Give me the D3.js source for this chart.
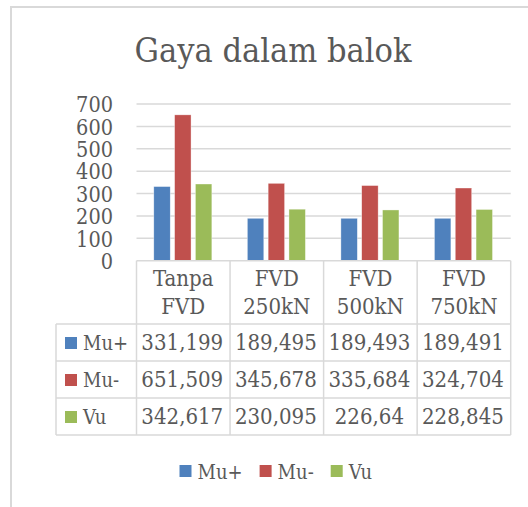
<!DOCTYPE html>
<html><head><meta charset="utf-8">
<script src="https://cdn.jsdelivr.net/npm/d3@7"></script>
<style>
html,body{margin:0;padding:0;background:#fff;}
svg text{font-family:"DejaVu Serif Condensed","DejaVu Serif",serif;font-stretch:condensed;fill:#595959;}
</style></head>
<body><svg id="c" width="528" height="507"></svg>
<script>
const title = "Gaya dalam balok";
const categories = ["Tanpa FVD", "FVD 250kN", "FVD 500kN", "FVD 750kN"];
const seriesNames = ["Mu+", "Mu-", "Vu"];
const seriesColors = ["#4F81BD", "#C0504D", "#9BBB59"];
const muPlus = [331.199, 189.495, 189.493, 189.491];
const muMinus = [651.509, 345.678, 335.684, 324.704];
const vu = [342.617, 230.095, 226.64, 228.845];
const yTicks = [0, 100, 200, 300, 400, 500, 600, 700];

const seriesValues = [muPlus, muMinus, vu];
const svg = d3.select("#c");
const grid = "#d9d9d9";

// outer chart frame
svg.append("rect").attr("x", 11).attr("y", 7).attr("width", 530).attr("height", 520)
  .attr("fill", "#fff").attr("stroke", grid).attr("stroke-width", 2);

// title
svg.append("text").attr("x", 273).attr("y", 62).attr("text-anchor", "middle")
  .style("font-size", "34px").text(title);

const plotL = 136.5, plotR = 510.7, plotT = 104, plotB = 260.7;
const y = d3.scaleLinear().domain([0, 700]).range([plotB, plotT]);
const x = d3.scaleBand().domain(categories).range([plotL, plotR]);
const xi = d3.scaleBand().domain(seriesNames).range([17.3, x.bandwidth() - 18.2]).paddingInner(0.21);

// gridlines
svg.append("g").selectAll("line").data(yTicks.filter(d => d > 0)).join("line")
  .attr("x1", plotL).attr("x2", plotR).attr("y1", d => y(d)).attr("y2", d => y(d))
  .attr("stroke", grid).attr("stroke-width", 1.5);

// y axis labels
const ya = svg.append("g").attr("transform", `translate(${plotL - 23.5},0)`)
  .call(d3.axisLeft(y).tickValues(yTicks).tickSize(0).tickPadding(0).tickFormat(d3.format("d")));
ya.select(".domain").remove();
ya.selectAll("text").style("font-size", "21.5px").style("font-family", null).attr("fill", null).attr("dy", "0.36em");

// bars
const groups = svg.append("g").selectAll("g").data(categories).join("g")
  .attr("transform", d => `translate(${x(d)},0)`);
groups.selectAll("rect").data((c, ci) => seriesNames.map((s, si) => ({s, si, v: seriesValues[si][ci]})))
  .join("rect")
  .attr("x", d => xi(d.s)).attr("width", xi.bandwidth())
  .attr("y", d => y(d.v)).attr("height", d => y(0) - y(d.v))
  .attr("fill", d => seriesColors[d.si]).attr("stroke", "#fff").attr("stroke-width", 0.6).attr("stroke-opacity", 0.6);

// data table
const tblL = 56, hdrT = plotB, hdrB = 324, rowH = 37;
const rowTops = seriesNames.map((s, i) => hdrB + i * rowH);
const tblB = hdrB + seriesNames.length * rowH;
const tg = svg.append("g").attr("stroke", grid).attr("stroke-width", 1.5).attr("fill", "none");
tg.append("line").attr("x1", plotL).attr("x2", plotR).attr("y1", hdrT).attr("y2", hdrT);
const colEdges = categories.map(c => x(c)).concat([plotR]);
tg.selectAll(".v").data(colEdges).join("line").attr("class", "v")
  .attr("x1", d => d).attr("x2", d => d).attr("y1", hdrT).attr("y2", tblB);
tg.append("line").attr("x1", tblL).attr("x2", tblL).attr("y1", hdrB).attr("y2", tblB);
tg.selectAll(".h").data(rowTops.concat([tblB])).join("line").attr("class", "h")
  .attr("x1", tblL).attr("x2", plotR).attr("y1", d => d).attr("y2", d => d);

// category labels
const cl = svg.append("g").selectAll("text").data(categories).join("text")
  .attr("x", d => x(d) + x.bandwidth() / 2).attr("text-anchor", "middle").style("font-size", "22px");
cl.each(function(d) {
  const parts = d.split(" ");
  d3.select(this).selectAll("tspan").data(parts).join("tspan")
    .attr("x", x(d) + x.bandwidth() / 2).attr("y", (p, i) => 286 + i * 28).text(p => p);
});

// table rows
const fmt = v => String(v).replace(".", ",");
seriesNames.forEach((s, si) => {
  const top = rowTops[si];
  svg.append("rect").attr("x", 65).attr("y", top + 13).attr("width", 12).attr("height", 12).attr("fill", seriesColors[si]);
  svg.append("text").attr("x", 83).attr("y", top + 26).style("font-size", "20px").text(s);
  categories.forEach((c, ci) => {
    svg.append("text").attr("x", x(c) + x.bandwidth() / 2 - 1).attr("y", top + 26)
      .attr("text-anchor", "middle").style("font-size", "22px").text(fmt(seriesValues[si][ci]));
  });
});

// legend
const lg = svg.append("g");
let lx = 179.5;
seriesNames.forEach((s, si) => {
  const g = lg.append("g").attr("transform", `translate(${lx},0)`);
  g.append("rect").attr("x", 0).attr("y", 465).attr("width", 12).attr("height", 12).attr("fill", seriesColors[si]);
  const t = g.append("text").attr("x", 18).attr("y", 479).style("font-size", "20px").text(s);
  lx += 18 + t.node().getComputedTextLength() + 17;
});
</script></body></html>
